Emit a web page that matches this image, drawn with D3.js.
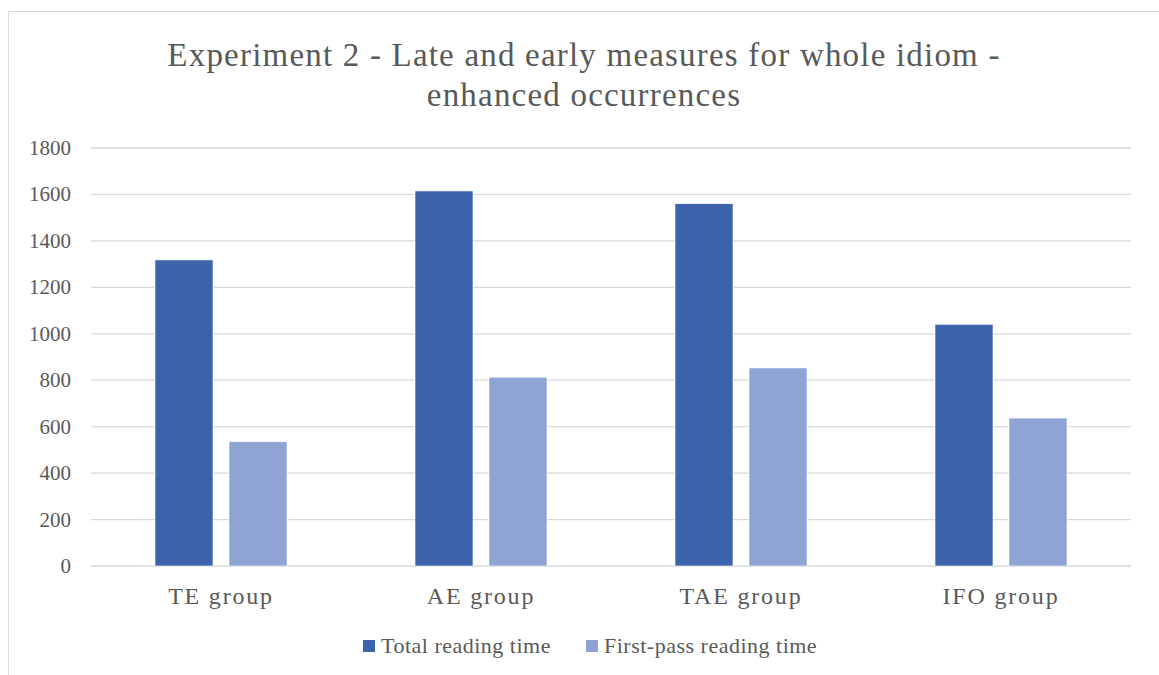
<!DOCTYPE html>
<html>
<head>
<meta charset="utf-8">
<script src="https://cdn.jsdelivr.net/npm/d3@7"></script>
<style>
  body { margin: 0; background: #fff; }
  text { font-family: "Liberation Serif", "DejaVu Serif", serif; fill: #595959; }
</style>
</head>
<body>
<div id="chart"></div>
<script>
const categories = ["TE group", "AE group", "TAE group", "IFO group"];
const seriesNames = ["Total reading time", "First-pass reading time"];
const totalReading = [1318, 1615, 1560, 1041];
const firstPass = [535, 813, 853, 637];
const yTicks = [0, 200, 400, 600, 800, 1000, 1200, 1400, 1600, 1800];
const colors = ["#3c64ac", "#8fa4d4"];

const width = 1159;
const height = 675;
const margin = { top: 148, right: 28, bottom: 109, left: 91 };

const svg = d3.select("#chart").append("svg")
    .attr("width", width)
    .attr("height", height);

// chart border
svg.append("rect")
    .attr("x", 8.5).attr("y", 11.5)
    .attr("width", width).attr("height", height)
    .attr("fill", "none")
    .attr("stroke", "#d9d9d9");

const x = d3.scaleBand()
    .domain(categories)
    .range([margin.left, width - margin.right])
    .paddingInner(0).paddingOuter(0);

const x1 = d3.scaleBand()
    .domain(seriesNames)
    .range([0, 132])
    .paddingInner(16 / 74);

const y = d3.scaleLinear()
    .domain([0, 1800])
    .range([height - margin.bottom, margin.top]);

// gridlines
svg.append("g")
    .selectAll("line")
    .data(yTicks)
    .enter()
    .append("line")
    .attr("x1", margin.left)
    .attr("x2", width - margin.right)
    .attr("y1", d => y(d))
    .attr("y2", d => y(d))
    .attr("stroke", "#d9d9d9")
    .attr("stroke-width", 1.3);

// y tick labels
svg.append("g")
    .selectAll("text")
    .data(yTicks)
    .enter()
    .append("text")
    .attr("x", 71)
    .attr("y", d => y(d) + 7)
    .attr("text-anchor", "end")
    .attr("font-size", 21)
    .text(d => d);

const rows = categories.map((c, i) => ({
    cat: c,
    vals: [totalReading[i], firstPass[i]]
}));

const groups = svg.append("g")
    .selectAll("g")
    .data(rows)
    .enter()
    .append("g")
    .attr("transform", d => "translate(" + (x(d.cat) + (x.bandwidth() - 132) / 2) + ",0)");

groups.selectAll("rect")
    .data(d => d.vals.map((v, j) => ({ name: seriesNames[j], v: v, j: j })))
    .enter()
    .append("rect")
    .attr("x", d => x1(d.name))
    .attr("width", x1.bandwidth())
    .attr("y", d => y(d.v))
    .attr("height", d => y(0) - y(d.v))
    .attr("fill", d => colors[d.j])
    .attr("stroke", "#fff")
    .attr("stroke-width", 0.6);

// category labels
svg.append("g")
    .selectAll("text")
    .data(categories)
    .enter()
    .append("text")
    .attr("x", d => x(d) + x.bandwidth() / 2)
    .attr("y", 604)
    .attr("text-anchor", "middle")
    .attr("font-size", 24)
    .attr("letter-spacing", 1.8)
    .text(d => d);

// title
const title = svg.append("text")
    .attr("text-anchor", "middle")
    .attr("font-size", 33)
    .attr("letter-spacing", 1.2);
title.append("tspan").attr("x", 584).attr("y", 66)
    .text("Experiment 2 - Late and early measures for whole idiom -");
title.append("tspan").attr("x", 584).attr("y", 106)
    .text("enhanced occurrences");

// legend
const legendX = [363, 586];
const legend = svg.append("g")
    .selectAll("g")
    .data(seriesNames)
    .enter()
    .append("g")
    .attr("transform", (d, i) => "translate(" + legendX[i] + ",640)");
legend.append("rect")
    .attr("width", 12).attr("height", 12)
    .attr("fill", (d, i) => colors[i]);
legend.append("text")
    .attr("x", 18)
    .attr("y", 13)
    .attr("font-size", 22)
    .attr("letter-spacing", 0.5)
    .text(d => d);
</script>
</body>
</html>
